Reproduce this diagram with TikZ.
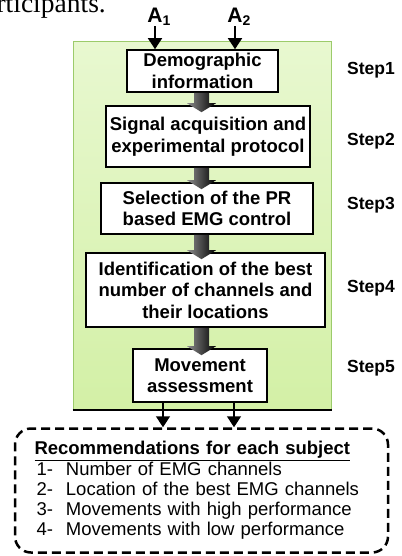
\documentclass[tikz,border=0pt]{standalone}
\usepackage{fontspec}
\setmainfont{Liberation Serif}
\setsansfont{Liberation Sans}
\usetikzlibrary{arrows.meta,calc}

\definecolor{paneltop}{HTML}{E8F8D0}
\definecolor{panelbot}{HTML}{D3F0A6}
\definecolor{panelline}{HTML}{9CCB6B}

\tikzset{
  stepbox/.style={draw=black,line width=1.6pt,fill=white,align=center,inner sep=0pt,
    font=\sffamily\bfseries\fontsize{18.5}{21.5}\selectfont},
  steplabel/.style={anchor=west,inner sep=0pt,font=\sffamily\bfseries\fontsize{17.5}{19}\selectfont},
  inarrow/.style={line width=1.6pt,-{Triangle[width=14pt,length=11pt]}},
  barrow/.style={left color=black!45,right color=black,draw=none},
  letter/.style={inner sep=0pt,anchor=base,font=\sffamily\bfseries\fontsize{21}{24}\selectfont}
}

\begin{document}
\begin{tikzpicture}[x=1pt,y=-1pt]
  \path[use as bounding box,clip] (0,0) rectangle (401,556);
  \node[anchor=base east,inner sep=0pt,font=\fontsize{27.5}{30}\selectfont] (pagetext) at (106,13) {rticipants.};

  % green panel
  \node[draw=panelline,line width=1pt,top color=paneltop,bottom color=panelbot,
    minimum width=258pt,minimum height=367pt] (panel) at (202,225.5) {};
  \draw[line width=2pt] (panel.south west) -- (panel.south east);

  % the five steps
  \node[stepbox,minimum width=151pt,minimum height=42pt] (demo) at (202.5,71) {Demographic\\information};
  \node[stepbox,minimum width=204pt,minimum height=61pt] (signal) at (208,136.5) {Signal acquisition and\\experimental protocol};
  \node[stepbox,minimum width=212pt,minimum height=51pt] (select) at (207,208.5) {Selection of the PR\\based EMG control};
  \node[stepbox,minimum width=239pt,minimum height=74pt] (ident) at (205.5,290) {Identification of the best\\number of channels and\\their locations};
  \node[stepbox,minimum width=134pt,minimum height=53pt] (move) at (200,375.5) {Movement\\assessment};

  \foreach \a/\b in {demo/signal,signal/select,select/ident,ident/move}
    \shade[barrow] let \p1=(\a.south), \p2=(\b.north) in
      (194pt,\y1) -- (209pt,\y1) -- (209pt,\y2+2pt) -- (216pt,\y2+2pt) -- (201.5pt,\y2-7pt)
      -- (187pt,\y2+2pt) -- (194pt,\y2+2pt) -- cycle;

  \foreach \i/\y in {1/70,2/141,3/205,4/288,5/368}
    \node[steplabel] (step\i) at (347,\y) {Step\i};

  % inputs
  \node[letter] (aone) at (155,23) {A\rlap{\fontsize{14}{14}\selectfont\raisebox{-3pt}{1}}};
  \node[letter] (atwo) at (235,23) {A\rlap{\fontsize{14}{14}\selectfont\raisebox{-3pt}{2}}};
  \draw[inarrow] (aone.south) -- (aone.south |- demo.north);
  \draw[inarrow] (atwo.south) -- (atwo.south |- demo.north);

  % recommendations
  \node[draw,line width=2.5pt,dash pattern=on 9pt off 5pt,rounded corners=16pt,
    minimum width=373pt,minimum height=124pt,text width=334pt,align=left,inner sep=0pt,
    font=\sffamily\fontsize{18.5}{20.2}\selectfont] (recom) at (201.5,490.5)
    {\textbf{\underline{Recommendations for each subject}}\\
     \hspace*{2pt}1-\hspace{13pt}Number of EMG channels\\
     \hspace*{2pt}2-\hspace{13pt}Location of the best EMG channels\\
     \hspace*{2pt}3-\hspace{13pt}Movements with high performance\\
     \hspace*{2pt}4-\hspace{13pt}Movements with low performance};
  \draw[inarrow] ([xshift=-37pt]move.south) -- ([xshift=-37pt]move.south |- recom.north);
  \draw[inarrow] ([xshift=34pt]move.south) -- ([xshift=34pt]move.south |- recom.north);
\end{tikzpicture}
\end{document}
